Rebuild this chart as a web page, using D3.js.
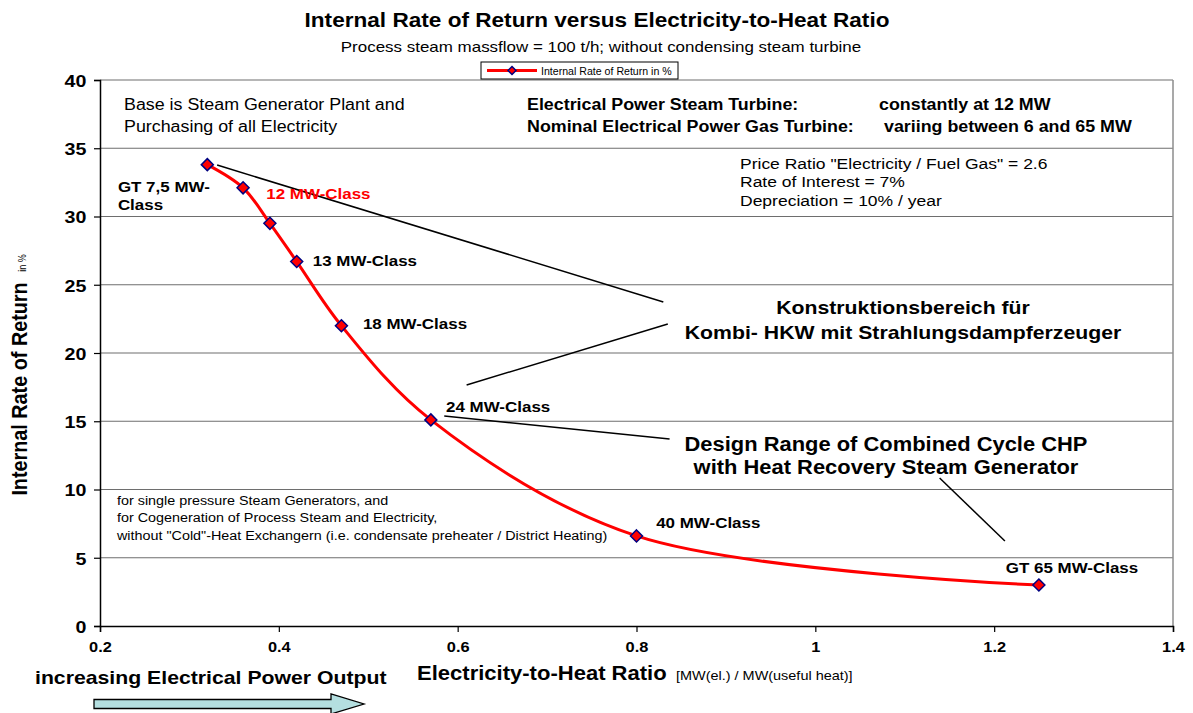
<!DOCTYPE html>
<html>
<head>
	<title>Internal Rate of Return</title>
	<script type="text/javascript" src="https://cdnjs.cloudflare.com/ajax/libs/d3/7.8.5/d3.min.js"></script>
	<style>
		body { margin: 0; background: #fff; }
		text { font-family: "Liberation Sans", Arial, sans-serif; }
	</style>
</head>
<body>
	<svg id="chart" width="1193" height="713"></svg>
	<script type="text/javascript">
		// data
		var ratio = [0.32, 0.36, 0.39, 0.42, 0.47, 0.57, 0.80, 1.25];
		var irr = [33.8, 32.1, 29.5, 26.7, 22.0, 15.1, 6.6, 3.0];
		var xTicks = [0.2, 0.4, 0.6, 0.8, 1, 1.2, 1.4];
		var yTicks = [0, 5, 10, 15, 20, 25, 30, 35, 40];

		var pointLabels = ["GT 7,5 MW-", "Class", "12 MW-Class", "13 MW-Class", "18 MW-Class", "24 MW-Class", "40 MW-Class", "GT 65 MW-Class"];
		var labelX = [0.220, 0.220, 0.386, 0.438, 0.494, 0.587, 0.822, 1.213];
		var labelY = [31.8, 30.5, 31.3, 26.4, 21.8, 15.7, 7.2, 3.9];

		// pointer lines, in data units [x1, y1, x2, y2]
		var pointers = [
			[0.331, 33.77, 0.830, 23.74],
			[0.610, 17.66, 0.835, 22.12],
			[0.585, 15.38, 0.837, 13.70],
			[1.139, 10.84, 1.212, 6.23]
		];

		var svg = d3.select("#chart");
		var plotLeft = 100, plotRight = 1173, plotTop = 80, plotBottom = 626;
		var sx = 1.13; // the original chart is a bit wider than tall in its lettering

		var x = d3.scaleLinear().domain([0.2, 1.4]).range([plotLeft, plotRight]);
		var y = d3.scaleLinear().domain([0, 40]).range([plotBottom, plotTop]);

		//grid
		svg.append("g").selectAll("line")
			.data(yTicks.filter(function (d) { return d > 0; }))
			.enter().append("line")
			.attr("x1", plotLeft).attr("x2", plotRight)
			.attr("y1", function (d) { return y(d); })
			.attr("y2", function (d) { return y(d); })
			.attr("stroke", "#6e6e6e")
			.attr("stroke-width", 1.2);

		svg.append("line")
			.attr("x1", plotRight).attr("x2", plotRight)
			.attr("y1", plotTop).attr("y2", plotBottom)
			.attr("stroke", "#8c8c8c")
			.attr("stroke-width", 1.5);

		//axes
		var yAxis = svg.append("g")
			.attr("transform", "translate(" + plotLeft + ",0)")
			.call(d3.axisLeft(y).tickValues(yTicks).tickSize(6).tickPadding(6).tickFormat(d3.format("d")));
		var xAxis = svg.append("g")
			.attr("transform", "translate(0," + plotBottom + ")")
			.call(d3.axisBottom(x).tickValues(xTicks).tickSize(6).tickPadding(10).tickFormat(function (d) { return d; }));

		[yAxis, xAxis].forEach(function (a) {
			a.select(".domain").attr("stroke", "#000").attr("stroke-width", 1.5);
			a.selectAll(".tick line").attr("stroke", "#000").attr("stroke-width", 1.2);
			a.selectAll("text")
				.attr("fill", "#000")
				.attr("transform", "scale(" + sx + ",1)")
				.style("font-family", "'Liberation Sans', Arial, sans-serif")
				.style("font-weight", "bold");
		});
		yAxis.selectAll("text").style("font-size", "17.4px").attr("dy", "0.36em");
		xAxis.selectAll("text").style("font-size", "14.5px");

		//curve
		var line = d3.line()
			.x(function (d, i) { return x(ratio[i]); })
			.y(function (d, i) { return y(irr[i]); })
			.curve(d3.curveCatmullRom.alpha(0.5));

		svg.append("path")
			.attr("d", line(irr))
			.attr("fill", "none")
			.attr("stroke", "#ff0000")
			.attr("stroke-width", 3);

		var diamond = "M0,-6L6,0L0,6L-6,0Z";
		svg.append("g").selectAll("path")
			.data(irr)
			.enter().append("path")
			.attr("d", diamond)
			.attr("transform", function (d, i) { return "translate(" + x(ratio[i]) + "," + y(d) + ")"; })
			.attr("fill", "#ff0000")
			.attr("stroke", "#000080")
			.attr("stroke-width", 1.5);

		//pointer lines
		svg.append("g").selectAll("line")
			.data(pointers)
			.enter().append("line")
			.attr("x1", function (d) { return x(d[0]); })
			.attr("y1", function (d) { return y(d[1]); })
			.attr("x2", function (d) { return x(d[2]); })
			.attr("y2", function (d) { return y(d[3]); })
			.attr("stroke", "#000")
			.attr("stroke-width", 1.5);

		//stretched text helper
		function txt(t, px, py, size, weight, anchor) {
			return svg.append("text")
				.attr("transform", "translate(" + px + "," + py + ") scale(" + sx + ",1)")
				.attr("font-size", size)
				.attr("font-weight", weight || "normal")
				.attr("text-anchor", anchor || "start")
				.text(t);
		}

		//point labels
		pointLabels.forEach(function (d, i) {
			txt(d, x(labelX[i]), y(labelY[i]) + 0.5, 15, "bold")
				.attr("fill", i == 2 ? "#ff0000" : "#000");
		});

		//title
		txt("Internal Rate of Return versus Electricity-to-Heat Ratio", 597, 27, 20, "bold", "middle");
		txt("Process steam massflow = 100 t/h; without condensing steam turbine", 601, 52, 15, "normal", "middle");

		//legend
		var lg = svg.append("g");
		lg.append("rect").attr("x", 481).attr("y", 62).attr("width", 197).attr("height", 17)
			.attr("fill", "#fff").attr("stroke", "#000").attr("stroke-width", 1);
		lg.append("line").attr("x1", 487).attr("x2", 537).attr("y1", 70.5).attr("y2", 70.5)
			.attr("stroke", "#ff0000").attr("stroke-width", 3);
		lg.append("path").attr("d", "M0,-4L4,0L0,4L-4,0Z").attr("transform", "translate(512,70.5)")
			.attr("fill", "#ff0000").attr("stroke", "#000080").attr("stroke-width", 1.5);
		lg.append("text").attr("x", 541).attr("y", 75).attr("font-size", 10.6).text("Internal Rate of Return in %");

		//notes in plot
		function addLines(lines, px, y0, dy, size, weight, anchor) {
			lines.forEach(function (t, i) { txt(t, px, y0 + i * dy, size, weight, anchor); });
		}
		addLines(["Base is Steam Generator Plant and", "Purchasing of all Electricity"], 124, 110, 22, 15.8);
		addLines(["Electrical Power Steam Turbine:", "Nominal Electrical Power Gas Turbine:"], 527, 110, 22, 15.8, "bold");
		addLines(["constantly at 12 MW"], 879, 110, 22, 15.8, "bold");
		addLines(["variing between 6 and 65 MW"], 884, 132, 22, 15.8, "bold");
		addLines(["Price Ratio \"Electricity / Fuel Gas\" = 2.6", "Rate of Interest = 7%", "Depreciation = 10% / year"], 740, 168.5, 18.5, 15.5);
		addLines(["Konstruktionsbereich für", "Kombi- HKW mit Strahlungsdampferzeuger"], 903, 313.5, 25, 18.8, "bold", "middle");
		addLines(["Design Range of Combined Cycle CHP", "with Heat Recovery Steam Generator"], 886, 451, 23, 19.4, "bold", "middle");
		addLines(["for single pressure Steam Generators, and", "for Cogeneration of Process Steam and Electricity,", "without \"Cold\"-Heat Exchangern (i.e. condensate preheater / District Heating)"], 117, 504.5, 17.5, 12.7);

		//axis titles
		svg.append("text").attr("transform", "translate(27,389) scale(" + sx + ",1) rotate(-90)").attr("text-anchor", "middle")
			.attr("font-size", 19.8).attr("font-weight", "bold").text("Internal Rate of Return");
		svg.append("text").attr("transform", "translate(26,263) scale(" + sx + ",1) rotate(-90)").attr("text-anchor", "middle")
			.attr("font-size", 9).text("in %");
		txt("Electricity-to-Heat Ratio", 417, 680, 19.5, "bold");
		txt("[MW(el.) / MW(useful heat)]", 676, 680, 12.8);
		txt("increasing Electrical Power Output", 35, 684, 18.8, "bold");

		//arrow
		svg.append("path")
			.attr("d", "M94,699.5L331,699.5L331,694L364,704L331,714L331,708.5L94,708.5Z")
			.attr("fill", "#b4dfe0").attr("stroke", "#000").attr("stroke-width", 1.3);
	</script>
</body>
</html>
